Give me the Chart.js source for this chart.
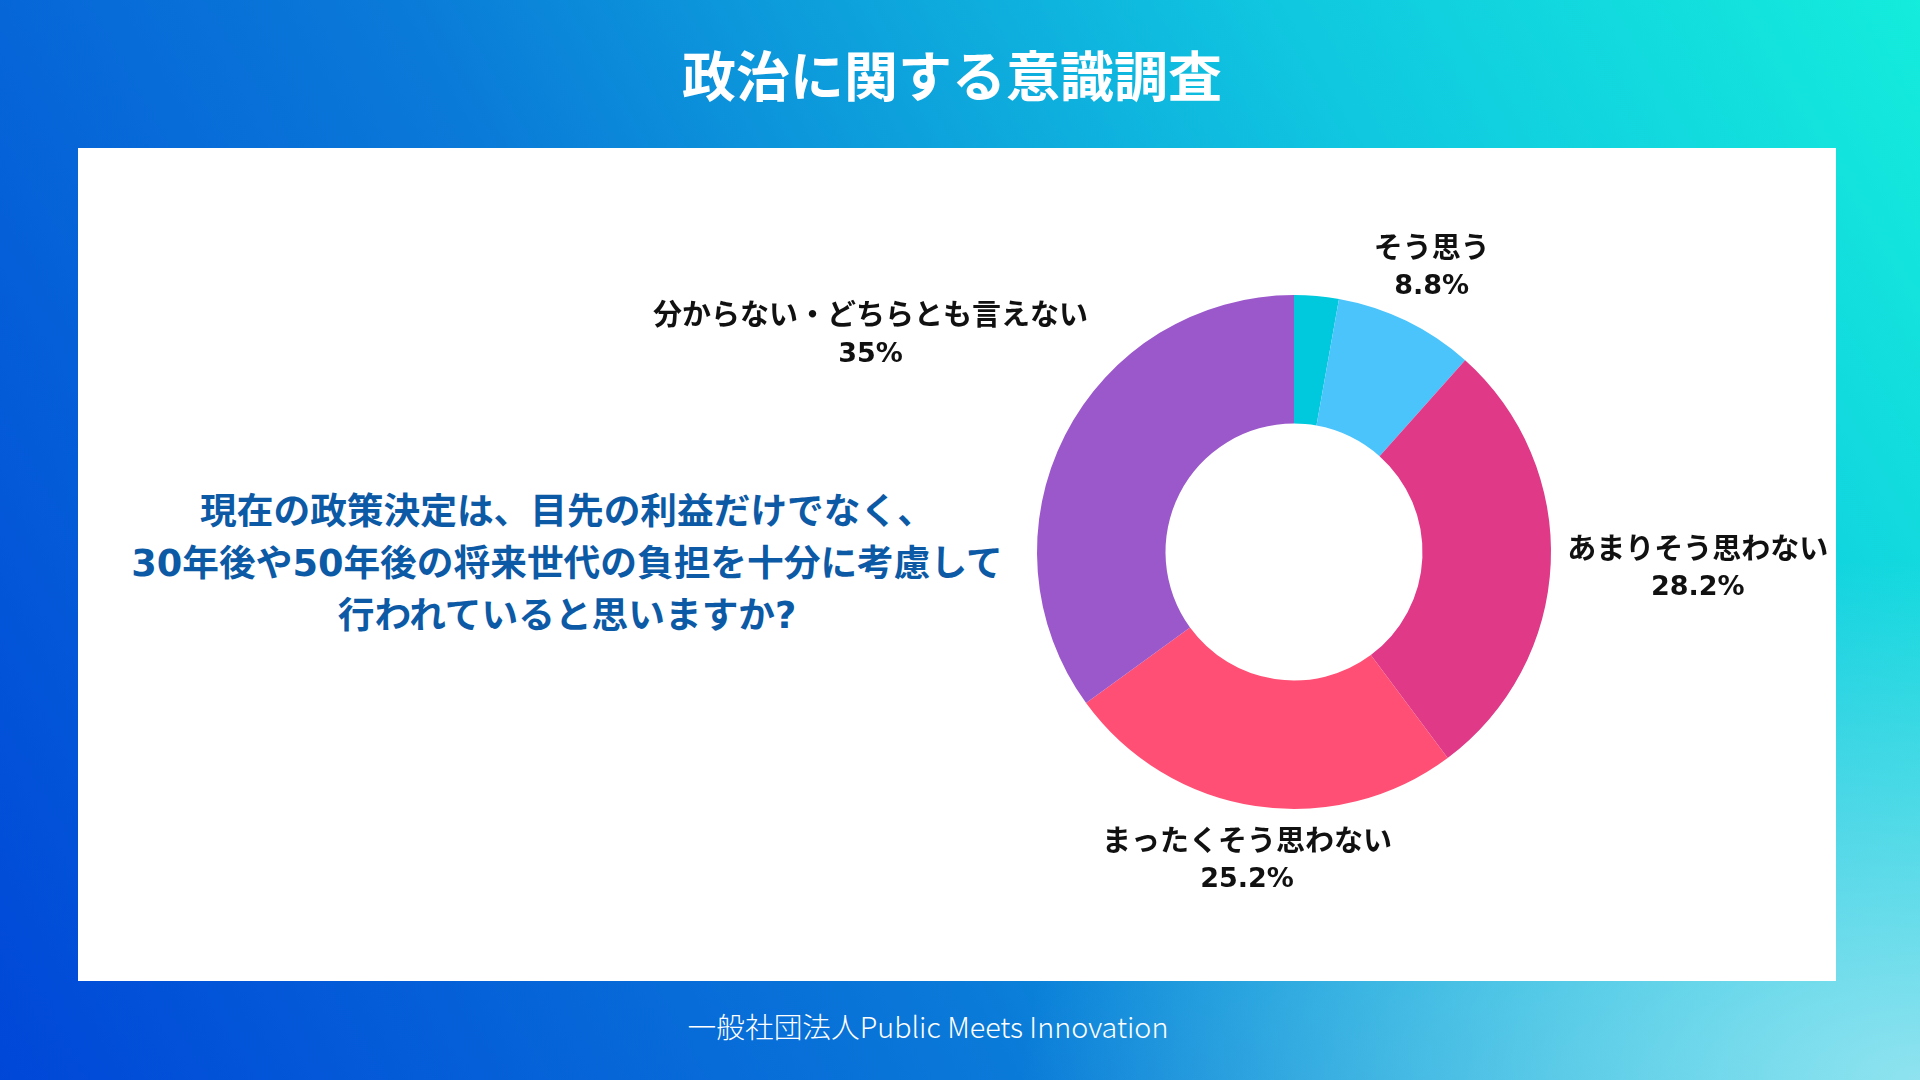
<!DOCTYPE html>
<html lang="ja">
<head>
<meta charset="utf-8">
<title>政治に関する意識調査</title>
<script src="https://cdn.jsdelivr.net/npm/chart.js@4.4.1/dist/chart.umd.min.js"></script>
<style>
  html, body { margin: 0; padding: 0; }
  body {
    width: 1920px; height: 1080px; position: relative; overflow: hidden;
    font-family: "DejaVu Sans", "Noto Sans CJK JP", sans-serif;
    background:
      radial-gradient(ellipse 900px 520px at 1920px 1080px, rgba(150,228,240,0.95), rgba(150,228,240,0) 100%),
      linear-gradient(60deg, #0047d8 0%, #0a7ad8 40%, #10c8e0 75%, #14ecdc 100%);
  }
  h1 {
    position: absolute; left: -8px; top: 42px; width: 1920px; margin: 0;
    text-align: center; color: #fff; font-size: 54px; font-weight: 700; line-height: 64px;
    font-family: "Noto Sans CJK JP", sans-serif;
  }
  .panel {
    position: absolute; left: 78px; top: 148px; width: 1758px; height: 833px; background: #fff;
  }
  .question {
    position: absolute; left: 49px; top: 338px; width: 880px; margin: 0;
    text-align: center; color: #0c5aa6; font-size: 36.7px; font-weight: 700; line-height: 52px;
  }
  #chartBox { position: absolute; left: 0; top: 0; width: 1758px; height: 833px; }
  .footer {
    position: absolute; left: 0; top: 1008px; width: 1856px; text-align: center;
    color: #fff; font-size: 28.7px; font-weight: 300; line-height: 36px;
    font-family: "Noto Sans CJK JP", sans-serif;
  }
</style>
</head>
<body>
<h1>政治に関する意識調査</h1>
<div class="panel">
  <p class="question">現在の政策決定は、目先の利益だけでなく、<br>30年後や50年後の将来世代の負担を十分に考慮して<br>行われていると思いますか?</p>
  <div id="chartBox"><canvas id="pie"></canvas></div>
</div>
<div class="footer">一般社団法人Public Meets Innovation</div>

<script>
// ===== Data
const categories = ['とてもそう思う', 'そう思う', 'あまりそう思わない', 'まったくそう思わない', '分からない・どちらとも言えない'];
const shares = [2.8, 8.8, 28.2, 25.2, 35];
const sliceColors = ['#00c9dd', '#4bc4fc', '#df3988', '#ff4f74', '#9b58cb'];

// ラベル: 名前 + %、小さい扇形は表示しない
const nameFont = 'bold 29px "DejaVu Sans", "Noto Sans CJK JP", sans-serif';
const valueFont = 'bold 27px "DejaVu Sans", "Noto Sans CJK JP", sans-serif';
const labelLine = 37;
const minLabelShare = 5;

const outLabels = {
  id: 'outLabels',
  afterDatasetsDraw(chart) {
    const ctx = chart.ctx;
    const meta = chart.getDatasetMeta(0);
    ctx.save();
    ctx.fillStyle = '#111';
    ctx.textAlign = 'center';
    ctx.textBaseline = 'middle';
    meta.data.forEach((arc, i) => {
      const v = shares[i];
      if (v < minLabelShare) return;
      const p = arc.getProps(['x', 'y', 'startAngle', 'endAngle', 'outerRadius'], true);
      const a = (p.startAngle + p.endAngle) / 2;
      const name = categories[i], val = `${v}%`;
      ctx.font = nameFont;
      const wName = ctx.measureText(name).width;
      ctx.font = valueFont;
      const wVal = ctx.measureText(val).width;
      const w = Math.max(wName, wVal);
      const c = Math.cos(a), s = Math.sin(a);
      // 外側に置く: 箱の幅と高さの半分だけ押し出す
      const d = p.outerRadius + 16 + (w / 2) * Math.abs(c) + (labelLine / 2) * Math.abs(s);
      const cx = p.x + d * c, cy = p.y + d * s;
      ctx.font = nameFont;
      ctx.fillText(name, cx, cy - labelLine / 2);
      ctx.font = valueFont;
      ctx.fillText(val, cx, cy + labelLine / 2);
    });
    ctx.restore();
  }
};

new Chart(document.getElementById('pie'), {
  type: 'doughnut',
  data: {
    labels: categories,
    datasets: [{
      data: shares,
      backgroundColor: sliceColors,
      borderWidth: 0
    }]
  },
  options: {
    responsive: true,
    maintainAspectRatio: false,
    animation: false,
    cutout: '50%',
    layout: { padding: { left: 959, right: 285, top: 147, bottom: 172 } },
    plugins: {
      legend: { display: false },
      tooltip: { enabled: false }
    }
  },
  plugins: [outLabels]
});
</script>
</body>
</html>
